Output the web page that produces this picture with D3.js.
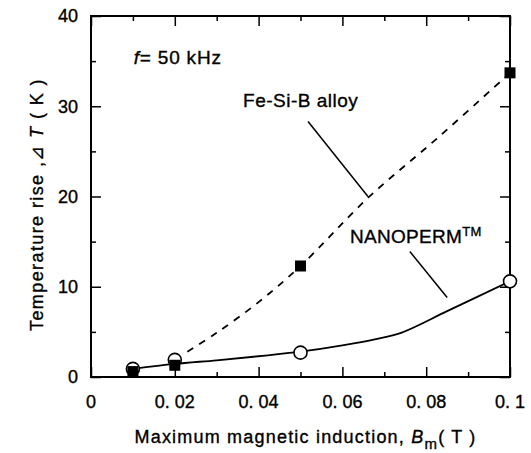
<!DOCTYPE html>
<html>
<head>
<meta charset="utf-8">
<script src="https://cdn.jsdelivr.net/npm/d3@7"></script>
<style>
  body { margin: 0; background: #fff; }
  text { font-family: "Liberation Sans", Arial, sans-serif; fill: #000; stroke: #000; stroke-width: 0.35px; }
</style>
</head>
<body>
<div id="chart"></div>
<script>
// measured points
var bmValues = [0.01, 0.02, 0.05, 0.1];
var feSiB = [0.6, 1.3, 12.3, 33.7];
var nanoperm = [0.9, 1.9, 2.7, 10.6];

// drawn fitting curves
var feSiBCurveX = [0.023, 0.03, 0.04, 0.05, 0.066, 0.083, 0.1];
var feSiBCurveY = [2.8, 4.9, 8.3, 12.3, 19.8, 26.6, 33.7];
var nanoCurveX = [0.01, 0.02, 0.03, 0.04, 0.05, 0.06, 0.068, 0.074, 0.085, 0.1];
var nanoCurveY = [0.9, 1.45, 1.85, 2.3, 2.8, 3.5, 4.2, 4.9, 7.3, 10.6];

var xTicks = [0, 0.02, 0.04, 0.06, 0.08, 0.1];
var xTickLabels = ["0", "0. 02", "0. 04", "0. 06", "0. 08", "0. 1"];
var xMinor = [0.01, 0.03, 0.05, 0.07, 0.09];
var yTicks = [0, 10, 20, 30, 40];
var yMinor = [5, 15, 25, 35];

var width = 531, height = 453;
var margin = { top: 16, right: 21, bottom: 76, left: 91 };
var w = width - margin.left - margin.right;
var h = height - margin.top - margin.bottom;

var svg = d3.select("#chart").append("svg")
    .attr("width", width)
    .attr("height", height);

var g = svg.append("g")
    .attr("transform", "translate(" + margin.left + "," + margin.top + ")");

var x = d3.scaleLinear().domain([0, 0.1]).range([0, w]);
var y = d3.scaleLinear().domain([0, 40]).range([h, 0]);

// ticks, all pointing inward
function ticks(axis, vals, len) {
    axis.tickValues(vals).tickSize(len).tickFormat("");
    return axis;
}
g.append("g").attr("transform", "translate(0," + h + ")").call(ticks(d3.axisTop(x), xTicks, 10));
g.append("g").attr("transform", "translate(0," + h + ")").call(ticks(d3.axisTop(x), xMinor, 5));
g.append("g").call(ticks(d3.axisBottom(x), xTicks, 10));
g.append("g").call(ticks(d3.axisBottom(x), xMinor, 5));
g.append("g").call(ticks(d3.axisRight(y), yTicks, 10));
g.append("g").call(ticks(d3.axisRight(y), yMinor, 5));
g.append("g").attr("transform", "translate(" + w + ",0)").call(ticks(d3.axisLeft(y), yTicks, 10));
g.append("g").attr("transform", "translate(" + w + ",0)").call(ticks(d3.axisLeft(y), yMinor, 5));
g.selectAll("path.domain").remove();
g.selectAll(".tick line").attr("stroke", "#000").attr("stroke-width", 1.5);

g.append("rect")
    .attr("width", w).attr("height", h)
    .attr("fill", "none").attr("stroke", "#000").attr("stroke-width", 2);

// tick labels
g.selectAll(".xlab").data(xTicks).enter().append("text")
    .attr("x", function(d) { return x(d); })
    .attr("y", h + 31)
    .attr("text-anchor", "middle")
    .style("font-size", "18px")
    .text(function(d, i) { return xTickLabels[i]; });

g.selectAll(".ylab").data(yTicks).enter().append("text")
    .attr("x", -13)
    .attr("y", function(d) { return y(d); })
    .attr("dy", "0.36em")
    .attr("text-anchor", "end")
    .style("font-size", "18px")
    .text(function(d) { return d; });

// axis titles
var xt = g.append("text")
    .attr("x", w / 2 + 5)
    .attr("y", h + 66)
    .attr("text-anchor", "middle")
    .style("font-size", "18px")
    .style("letter-spacing", "1.2px");
xt.append("tspan").text("Maximum magnetic induction, ");
xt.append("tspan").style("font-style", "italic").text("B");
xt.append("tspan").attr("dy", 6).style("font-size", "15px").text("m");
xt.append("tspan").attr("dy", -6).text("( T )");

var yt = g.append("text")
    .attr("transform", "translate(-48," + (h / 2 + 8) + ") rotate(-90)")
    .attr("text-anchor", "middle")
    .style("font-size", "18px")
    .style("letter-spacing", "1.4px");
yt.append("tspan").text("Temperature rise ,\u22BF ");
yt.append("tspan").style("font-style", "italic").text("T");
yt.append("tspan").text(" ( K )");

// curves
var line = d3.line()
    .x(function(d) { return x(d[0]); })
    .y(function(d) { return y(d[1]); })
    .curve(d3.curveCatmullRom.alpha(0.5));

g.append("path")
    .datum(feSiBCurveX.map(function(v, i) { return [v, feSiBCurveY[i]]; }))
    .attr("d", line)
    .attr("fill", "none").attr("stroke", "#000")
    .attr("stroke-width", 1.8).attr("stroke-dasharray", "7,7");

g.append("path")
    .datum(nanoCurveX.map(function(v, i) { return [v, nanoCurveY[i]]; }))
    .attr("d", line)
    .attr("fill", "none").attr("stroke", "#000").attr("stroke-width", 1.8);

// markers
g.selectAll(".circ").data(bmValues).enter().append("circle")
    .attr("cx", function(d) { return x(d); })
    .attr("cy", function(d, i) { return y(nanoperm[i]); })
    .attr("r", 6.5)
    .attr("fill", "#fff").attr("stroke", "#000").attr("stroke-width", 1.6);

g.selectAll(".sq").data(bmValues).enter().append("rect")
    .attr("x", function(d) { return x(d) - 5.5; })
    .attr("y", function(d, i) { return y(feSiB[i]) - 5.5; })
    .attr("width", 11).attr("height", 11)
    .attr("fill", "#000");

// annotations
var leaderX1 = [0.0518, 0.0761];
var leaderY1 = [28.3, 13.9];
var leaderX2 = [0.0661, 0.085];
var leaderY2 = [20.0, 8.8];
g.selectAll(".leader").data(leaderX1).enter().append("line")
    .attr("x1", function(d) { return x(d); })
    .attr("y1", function(d, i) { return y(leaderY1[i]); })
    .attr("x2", function(d, i) { return x(leaderX2[i]); })
    .attr("y2", function(d, i) { return y(leaderY2[i]); })
    .attr("stroke", "#000").attr("stroke-width", 1.5);

var ft = g.append("text")
    .attr("x", x(0.0102)).attr("y", y(34.7))
    .style("font-size", "19px")
    .style("letter-spacing", "0.8px");
ft.append("tspan").style("font-style", "italic").text("f");
ft.append("tspan").text("= 50 kHz");

g.append("text")
    .attr("x", x(0.0363)).attr("y", y(29.9))
    .style("font-size", "19px")
    .style("letter-spacing", "0.5px")
    .text("Fe-Si-B alloy");

var nt = g.append("text")
    .attr("x", x(0.0618)).attr("y", y(14.9))
    .style("font-size", "19px")
    .style("letter-spacing", "0.3px");
nt.append("tspan").text("NANOPERM");
nt.append("tspan").attr("dy", -7).style("font-size", "13px").text("TM");
</script>
</body>
</html>
